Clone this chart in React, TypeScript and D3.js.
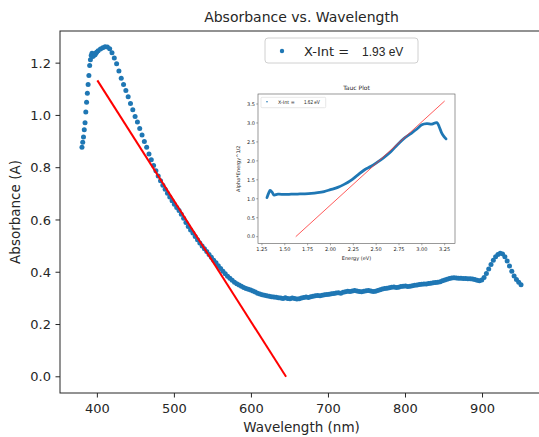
import React, { useEffect, useRef } from 'react';
import * as d3 from 'd3';

// Main spectrum: 1 nm steps on the steep edge, 3 nm steps after
const wavelengthNm = [...d3.range(380, 400, 1), ...d3.range(401, 951, 3)];
const absorbance = [
  0.878, 0.897, 0.917, 0.945, 0.972, 1.013, 1.05, 1.085, 1.118, 1.153,
  1.191, 1.213, 1.229, 1.238, 1.225, 1.228, 1.236, 1.232, 1.238, 1.242,
  1.247, 1.254, 1.259, 1.263, 1.262, 1.255, 1.24, 1.22, 1.198, 1.17,
  1.142, 1.118, 1.095, 1.071, 1.046, 1.022, 0.996, 0.975, 0.95, 0.925,
  0.9, 0.878, 0.852, 0.83, 0.808, 0.788, 0.768, 0.75, 0.733, 0.718,
  0.702, 0.688, 0.674, 0.66, 0.648, 0.636, 0.622, 0.607, 0.59, 0.575,
  0.562, 0.55, 0.537, 0.524, 0.512, 0.5, 0.49, 0.479, 0.468, 0.457,
  0.446, 0.436, 0.425, 0.414, 0.404, 0.394, 0.385, 0.377, 0.369, 0.362,
  0.356, 0.351, 0.346, 0.342, 0.338, 0.335, 0.332, 0.328, 0.324, 0.32,
  0.317, 0.314, 0.312, 0.31, 0.308, 0.306, 0.305, 0.304, 0.302, 0.301,
  0.3, 0.302, 0.3, 0.299, 0.301, 0.3, 0.298, 0.299, 0.301, 0.303,
  0.305, 0.303, 0.306, 0.308, 0.31, 0.311, 0.31, 0.312, 0.314, 0.315,
  0.316, 0.318, 0.319, 0.321, 0.322, 0.32, 0.323, 0.325, 0.327, 0.326,
  0.328, 0.33, 0.328, 0.326, 0.325, 0.327, 0.329, 0.33, 0.328, 0.326,
  0.327, 0.33, 0.333, 0.336, 0.338, 0.339, 0.341, 0.343, 0.344, 0.342,
  0.343, 0.345, 0.346, 0.347, 0.345, 0.346, 0.348, 0.35, 0.351, 0.353,
  0.354, 0.355, 0.355, 0.357, 0.358, 0.36, 0.361, 0.362, 0.364, 0.367,
  0.37, 0.373, 0.376, 0.378, 0.379, 0.378, 0.377, 0.377, 0.376, 0.376,
  0.375, 0.375, 0.374, 0.372, 0.369, 0.367, 0.37, 0.38, 0.395, 0.412,
  0.43, 0.446, 0.459, 0.468, 0.473, 0.47, 0.459, 0.443, 0.424, 0.404,
  0.386, 0.372, 0.362, 0.352,
];
const fitWavelength = [400, 645];
const fitAbsorbance = [1.134, 0];
const xTicks = [400, 500, 600, 700, 800, 900];
const yTicks = [0, 0.2, 0.4, 0.6, 0.8, 1.0, 1.2];
const legendLabel = 'X-Int =';
const legendValue = '1.93 eV';

// Inset Tauc plot
const taucEnergy = [
  1.305, 1.327, 1.34, 1.363, 1.381, 1.425, 1.5, 1.57, 1.64, 1.715,
  1.79, 1.86, 1.93, 2.0, 2.08, 2.15, 2.22, 2.29, 2.37, 2.44,
  2.51, 2.58, 2.66, 2.73, 2.8, 2.874, 2.946, 3.0, 3.055, 3.11,
  3.164, 3.19, 3.218, 3.243, 3.265,
];
const taucValue = [
  1.03, 1.17, 1.22, 1.17, 1.1, 1.12, 1.115, 1.12, 1.125, 1.13,
  1.14, 1.16, 1.19, 1.24, 1.3, 1.38, 1.48, 1.61, 1.76, 1.85,
  1.96, 2.08, 2.24, 2.42, 2.58, 2.71, 2.84, 2.95, 2.98, 2.97,
  3.01, 2.9, 2.73, 2.64, 2.58,
];
const taucFitEnergy = [1.62, 3.25];
const taucFitValue = [0, 3.58];
const taucXTicks = [1.25, 1.5, 1.75, 2.0, 2.25, 2.5, 2.75, 3.0, 3.25];
const taucYTicks = [0, 0.5, 1.0, 1.5, 2.0, 2.5, 3.0, 3.5];
const taucLegendValue = '1.62 eV';

const App = () => {
  const svgRef = useRef<SVGSVGElement>(null);

  useEffect(() => {
    if (!svgRef.current) return;
    const svg = d3.select(svgRef.current);
    svg.selectAll('*').remove();

    const font = 'DejaVu Sans, sans-serif';
    const ink = '#262626';
    const blue = '#1f77b4';

    // main axes
    const left = 60, right = 543, top = 31, bottom = 393;
    const x = d3.scaleLinear().domain([351.5, 978.5]).range([left, right]);
    const y = d3.scaleLinear().domain([-0.062, 1.323]).range([bottom, top]);

    svg.append('text')
      .attr('x', (left + right) / 2).attr('y', 22)
      .attr('text-anchor', 'middle')
      .attr('font-family', font).attr('font-size', 14).attr('fill', ink)
      .text('Absorbance vs. Wavelength');

    svg.append('g')
      .selectAll('circle')
      .data(wavelengthNm)
      .enter()
      .append('circle')
      .attr('cx', d => x(d))
      .attr('cy', (d, i) => y(absorbance[i]))
      .attr('r', 2.5)
      .attr('fill', blue);

    svg.append('line')
      .attr('x1', x(fitWavelength[0])).attr('y1', y(fitAbsorbance[0]))
      .attr('x2', x(fitWavelength[1])).attr('y2', y(fitAbsorbance[1]))
      .attr('stroke', 'red').attr('stroke-width', 2);

    svg.append('rect')
      .attr('x', left).attr('y', top)
      .attr('width', right - left).attr('height', bottom - top)
      .attr('fill', 'none').attr('stroke', ink).attr('stroke-width', 1);

    const xt = svg.append('g').selectAll('g').data(xTicks).enter().append('g');
    xt.append('line')
      .attr('x1', d => x(d)).attr('x2', d => x(d))
      .attr('y1', bottom).attr('y2', bottom + 4.5)
      .attr('stroke', ink);
    xt.append('text')
      .attr('x', d => x(d)).attr('y', bottom + 20)
      .attr('text-anchor', 'middle')
      .attr('font-family', font).attr('font-size', 13).attr('fill', ink)
      .text(d => d);

    const yt = svg.append('g').selectAll('g').data(yTicks).enter().append('g');
    yt.append('line')
      .attr('x1', left - 4.5).attr('x2', left)
      .attr('y1', d => y(d)).attr('y2', d => y(d))
      .attr('stroke', ink);
    yt.append('text')
      .attr('x', left - 9).attr('y', d => y(d) + 4.7)
      .attr('text-anchor', 'end')
      .attr('font-family', font).attr('font-size', 13).attr('fill', ink)
      .text(d => d.toFixed(1));

    svg.append('text')
      .attr('x', (left + right) / 2).attr('y', 432)
      .attr('text-anchor', 'middle')
      .attr('font-family', font).attr('font-size', 13.5).attr('fill', ink)
      .text('Wavelength (nm)');

    svg.append('text')
      .attr('transform', `translate(20,${(top + bottom) / 2}) rotate(-90)`)
      .attr('text-anchor', 'middle')
      .attr('font-family', font).attr('font-size', 13.5).attr('fill', ink)
      .text('Absorbance (A)');

    // legend
    const lg = svg.append('g');
    lg.append('rect')
      .attr('x', 265).attr('y', 38).attr('width', 153).attr('height', 25)
      .attr('rx', 3).attr('fill', '#fff').attr('stroke', '#d0d0d0');
    lg.append('circle').attr('cx', 282).attr('cy', 51).attr('r', 2.2).attr('fill', blue);
    lg.append('text')
      .attr('x', 304).attr('y', 55.5)
      .attr('font-family', font).attr('font-size', 13).attr('fill', ink)
      .text(legendLabel);
    lg.append('text')
      .attr('x', 362).attr('y', 56)
      .attr('font-family', 'Liberation Sans, Arial, sans-serif').attr('font-size', 12).attr('fill', ink)
      .text(legendValue);

    // inset Tauc plot
    const il = 258, ir = 455, itop = 94, ibot = 243.5;
    const ix = d3.scaleLinear().domain([1.207, 3.363]).range([il, ir]);
    const iy = d3.scaleLinear().domain([-0.18, 3.764]).range([ibot, itop]);
    const inset = svg.append('g');
    inset.append('rect')
      .attr('x', 226).attr('y', 82).attr('width', 238).attr('height', 182)
      .attr('fill', '#fff');
    inset.append('text')
      .attr('x', (il + ir) / 2).attr('y', 90)
      .attr('text-anchor', 'middle')
      .attr('font-family', font).attr('font-size', 6).attr('fill', ink)
      .text('Tauc Plot');

    const tline = d3.line<number>()
      .x(d => ix(d))
      .y((d, i) => iy(taucValue[i]))
      .curve(d3.curveCatmullRom);
    inset.append('path')
      .attr('d', tline(taucEnergy))
      .attr('fill', 'none').attr('stroke', blue)
      .attr('stroke-width', 2.8).attr('stroke-linecap', 'round');
    inset.append('line')
      .attr('x1', ix(taucFitEnergy[0])).attr('y1', iy(taucFitValue[0]))
      .attr('x2', ix(taucFitEnergy[1])).attr('y2', iy(taucFitValue[1]))
      .attr('stroke', '#ff3030').attr('stroke-width', 0.8);
    inset.append('rect')
      .attr('x', il).attr('y', itop).attr('width', ir - il).attr('height', ibot - itop)
      .attr('fill', 'none').attr('stroke', '#555').attr('stroke-width', 0.6);

    const ixt = inset.append('g').selectAll('g').data(taucXTicks).enter().append('g');
    ixt.append('line')
      .attr('x1', d => ix(d)).attr('x2', d => ix(d))
      .attr('y1', ibot).attr('y2', ibot + 1.8).attr('stroke', '#555').attr('stroke-width', 0.5);
    ixt.append('text')
      .attr('x', d => ix(d)).attr('y', ibot + 7.6)
      .attr('text-anchor', 'middle')
      .attr('font-family', font).attr('font-size', 5).attr('fill', ink)
      .text(d => d.toFixed(2));
    const iyt = inset.append('g').selectAll('g').data(taucYTicks).enter().append('g');
    iyt.append('line')
      .attr('x1', il - 1.8).attr('x2', il)
      .attr('y1', d => iy(d)).attr('y2', d => iy(d)).attr('stroke', '#555').attr('stroke-width', 0.5);
    iyt.append('text')
      .attr('x', il - 3).attr('y', d => iy(d) + 1.8)
      .attr('text-anchor', 'end')
      .attr('font-family', font).attr('font-size', 5).attr('fill', ink)
      .text(d => d.toFixed(1));
    inset.append('text')
      .attr('x', (il + ir) / 2).attr('y', 259.5)
      .attr('text-anchor', 'middle')
      .attr('font-family', font).attr('font-size', 5).attr('fill', ink)
      .text('Energy (eV)');
    inset.append('text')
      .attr('transform', `translate(240,${(itop + ibot) / 2}) rotate(-90)`)
      .attr('text-anchor', 'middle')
      .attr('font-family', font).attr('font-size', 5).attr('fill', ink)
      .text('Alpha*Energy^1/2');

    inset.append('rect')
      .attr('x', 261).attr('y', 97.3).attr('width', 64.7).attr('height', 10.4)
      .attr('rx', 1).attr('fill', '#fff').attr('stroke', '#d0d0d0').attr('stroke-width', 0.5);
    inset.append('circle').attr('cx', 267).attr('cy', 101.8).attr('r', 0.8).attr('fill', blue);
    inset.append('text')
      .attr('x', 278).attr('y', 103.8)
      .attr('font-family', font).attr('font-size', 4.8).attr('fill', ink)
      .text(legendLabel);
    inset.append('text')
      .attr('x', 304).attr('y', 104)
      .attr('font-family', 'Liberation Sans, Arial, sans-serif').attr('font-size', 4.6).attr('fill', ink)
      .text(taucLegendValue);
  }, []);

  return (
    <svg
      ref={svgRef}
      width={539}
      height={437}
      style={{ position: 'absolute', top: 0, left: 0, background: '#fff' }}
    />
  );
};

export default App;
